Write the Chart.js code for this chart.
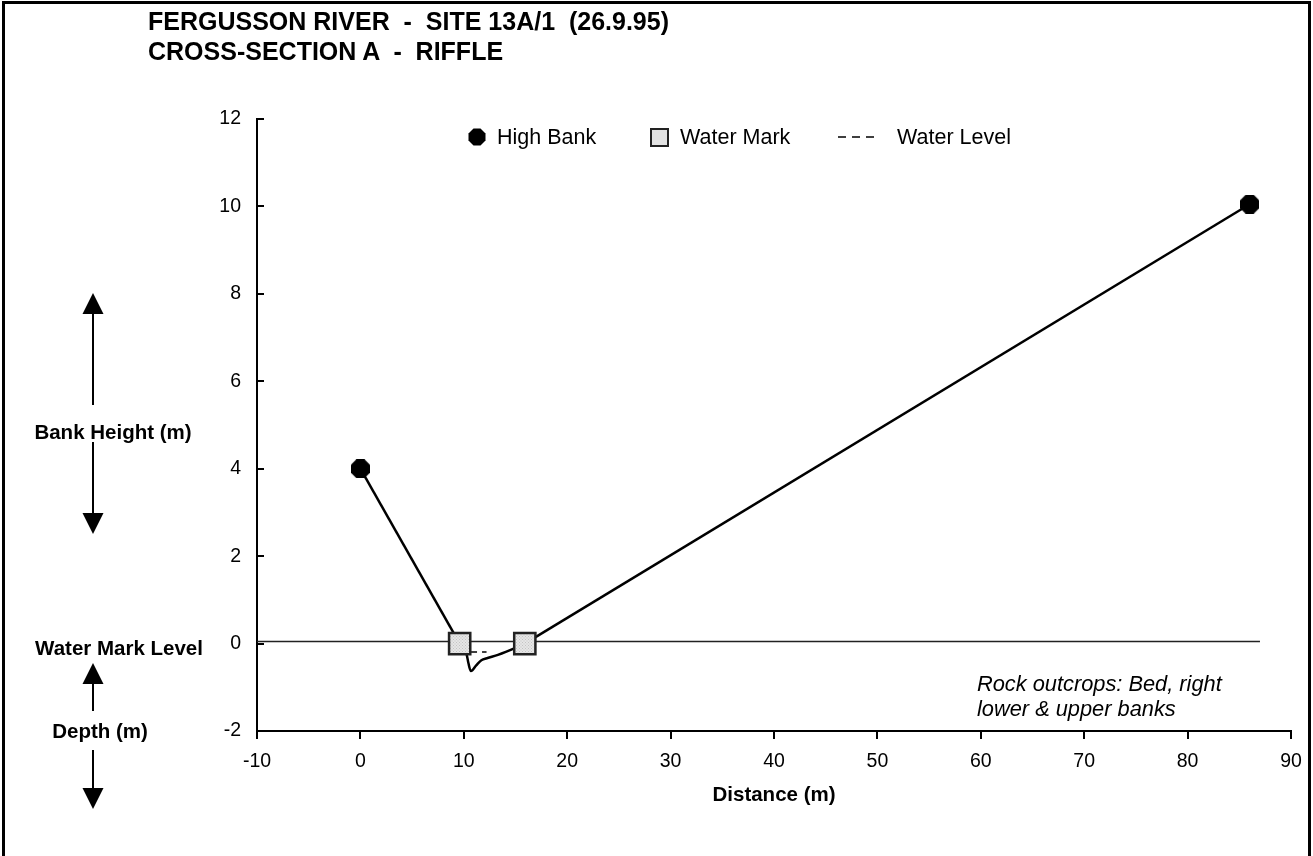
<!DOCTYPE html>
<html><head><meta charset="utf-8">
<script src="https://cdn.jsdelivr.net/npm/chart.js@4.4.0/dist/chart.umd.min.js"></script>
<style>
html,body{margin:0;padding:0;background:#fff;}
#wrap{position:relative;width:1313px;height:856px;overflow:hidden;font-family:"Liberation Sans",Arial,sans-serif;color:#000;background:#fff;}
#frame{position:absolute;left:2px;top:1px;width:1309px;height:900px;border:3px solid #000;box-sizing:border-box;pointer-events:none;}
#c{position:absolute;left:0;top:0;}
.t{position:absolute;white-space:pre;}
.title{font-weight:bold;font-size:25px;line-height:30px;left:148px;}
.lab{font-weight:bold;font-size:20.5px;line-height:24px;transform:translateX(-50%);}
.leg{font-size:21.5px;line-height:24px;}
.note{font-style:italic;font-size:21.8px;line-height:25px;left:977px;}
svg{position:absolute;left:0;top:0;}
</style>
</head><body>
<div id="wrap">
<canvas id="c" width="1313" height="856"></canvas>
<div class="t title" style="top:6px">FERGUSSON RIVER  -  SITE 13A/1  (26.9.95)</div>
<div class="t title" style="top:36px">CROSS-SECTION A  -  RIFFLE</div>

<div class="t lab" style="left:113px;top:420px">Bank Height (m)</div>
<div class="t lab" style="left:119px;top:636px">Water Mark Level</div>
<div class="t lab" style="left:100px;top:719px">Depth (m)</div>

<svg width="1313" height="856">
  <g stroke="#000" stroke-width="2" fill="#000">
    <line x1="93" y1="310" x2="93" y2="405"/>
    <polygon points="93,293 82.5,314 103.5,314" stroke="none"/>
    <line x1="93" y1="442" x2="93" y2="516"/>
    <polygon points="93,534 82.5,513 103.5,513" stroke="none"/>
    <line x1="93" y1="682" x2="93" y2="711"/>
    <polygon points="93,663 82.5,684 103.5,684" stroke="none"/>
    <line x1="93" y1="750" x2="93" y2="790"/>
    <polygon points="93,809 82.5,788 103.5,788" stroke="none"/>
  </g>
</svg>

<div class="t leg" style="left:497px;top:125px">High Bank</div>
<div class="t leg" style="left:680px;top:125px">Water Mark</div>
<div class="t leg" style="left:897px;top:125px">Water Level</div>
<svg width="1313" height="856">
  <polygon points="473.5,128.5 480.5,128.5 485.5,133.5 485.5,140.5 480.5,145.5 473.5,145.5 468.5,140.5 468.5,133.5" fill="#000"/>
  <rect x="651" y="129" width="17" height="17" fill="#e2e2e2" stroke="#222" stroke-width="2"/>
  <line x1="838" y1="137" x2="878" y2="137" stroke="#000" stroke-width="1.5" stroke-dasharray="8,6"/>
</svg>

<div class="t note" style="top:671px">Rock outcrops: Bed, right
lower &amp; upper banks</div>
<div id="frame"></div>
</div>
<script>
// ---- data ----
const highBankX = [0, 86];
const highBankY = [4, 10.05];
const waterMarkX = [9.6, 15.9];
const waterMarkY = [0, 0];
const bankLeftX = [0, 9.6];
const bankLeftY = [4, 0];
const bedX = [9.6, 10.2, 10.45, 10.7, 11.2, 11.7, 12.3, 13.3, 15.0, 15.9];
const bedY = [0, -0.19, -0.45, -0.63, -0.5, -0.38, -0.33, -0.26, -0.1, 0];
const bankRightX = [15.9, 86];
const bankRightY = [0, 10.05];
const waterLevelX = [10.7, 12.2];
const waterLevelY = [-0.19, -0.19];
const refLineX = [-10, 87];
const refLineY = [0.05, 0.05];
const xTickValues = [-10, 0, 10, 20, 30, 40, 50, 60, 70, 80, 90];
const yTickValues = [-2, 0, 2, 4, 6, 8, 10, 12];

const pts = (xs, ys) => xs.map((x, i) => ({x: x, y: ys[i]}));

// dotted fill pattern for the water mark squares
const pc = document.createElement('canvas');
pc.width = 3; pc.height = 3;
const pctx = pc.getContext('2d');
pctx.fillStyle = '#e6e6e6'; pctx.fillRect(0, 0, 3, 3);
pctx.fillStyle = '#c4c4c4'; pctx.fillRect(0, 0, 1, 1); pctx.fillRect(1.5, 1.5, 1, 1);
const pattern = pctx.createPattern(pc, 'repeat');

// octagon marker image for the high bank points
const oc = document.createElement('canvas');
oc.width = 19; oc.height = 19;
const octx = oc.getContext('2d');
octx.fillStyle = '#000';
octx.beginPath();
[[5.5,0],[13.5,0],[19,5.5],[19,13.5],[13.5,19],[5.5,19],[0,13.5],[0,5.5]].forEach((p, i) => i ? octx.lineTo(p[0], p[1]) : octx.moveTo(p[0], p[1]));
octx.closePath(); octx.fill();

Chart.defaults.font.family = "'Liberation Sans', Arial, sans-serif";
Chart.defaults.font.size = 19.5;
Chart.defaults.color = '#000';

new Chart(document.getElementById('c'), {
  type: 'scatter',
  data: {
    datasets: [
      { label: 'High Bank', data: pts(highBankX, highBankY), showLine: false,
        pointStyle: oc, pointRadius: 9.5 },
      { label: 'Water Mark', data: pts(waterMarkX, waterMarkY), showLine: false,
        pointStyle: 'rect', pointRadius: 15, pointBackgroundColor: pattern,
        pointBorderColor: '#222', pointBorderWidth: 2.5 },
      { label: 'Water Level', data: pts(waterLevelX, waterLevelY), showLine: true,
        borderColor: '#000', borderWidth: 1.5, borderDash: [6, 5], pointRadius: 0 },
      { label: 'bankLeft', data: pts(bankLeftX, bankLeftY), showLine: true,
        borderColor: '#000', borderWidth: 2.5, pointRadius: 0 },
      { label: 'bed', data: pts(bedX, bedY), showLine: true, tension: 0.3,
        borderColor: '#000', borderWidth: 2.5, pointRadius: 0 },
      { label: 'bankRight', data: pts(bankRightX, bankRightY), showLine: true,
        borderColor: '#000', borderWidth: 2.5, pointRadius: 0 },
      { label: 'ref', data: pts(refLineX, refLineY), showLine: true,
        borderColor: '#222', borderWidth: 1.5, pointRadius: 0 }
    ]
  },
  options: {
    responsive: false,
    animation: false,
    devicePixelRatio: 1,
    layout: { padding: { left: 200, right: 22, top: 119, bottom: 40 } },
    plugins: { legend: { display: false }, tooltip: { enabled: false } },
    scales: {
      x: {
        type: 'linear', min: -10, max: 90,
        afterBuildTicks: s => { s.ticks = xTickValues.map(v => ({value: v})); },
        afterFit: s => { s.height = 85; },
        grid: { drawOnChartArea: false, drawTicks: true, tickLength: 8, color: '#000', lineWidth: 2 },
        border: { display: true, color: '#000', width: 2 },
        ticks: { padding: 11, font: { size: 19.5 }, maxRotation: 0 },
        title: { display: true, text: 'Distance (m)', font: { size: 20.5, weight: 'bold' }, padding: { top: 0, bottom: 8 } }
      },
      y: {
        type: 'linear', min: -2, max: 12,
        afterBuildTicks: s => { s.ticks = yTickValues.map(v => ({value: v})); },
        afterFit: s => { s.width = 57; },
        grid: { drawOnChartArea: false, drawTicks: true, tickLength: -7, color: '#000', lineWidth: 2 },
        border: { display: true, color: '#000', width: 2 },
        ticks: { padding: 23, font: { size: 19.5 } }
      }
    }
  }
});
</script>
</body></html>
